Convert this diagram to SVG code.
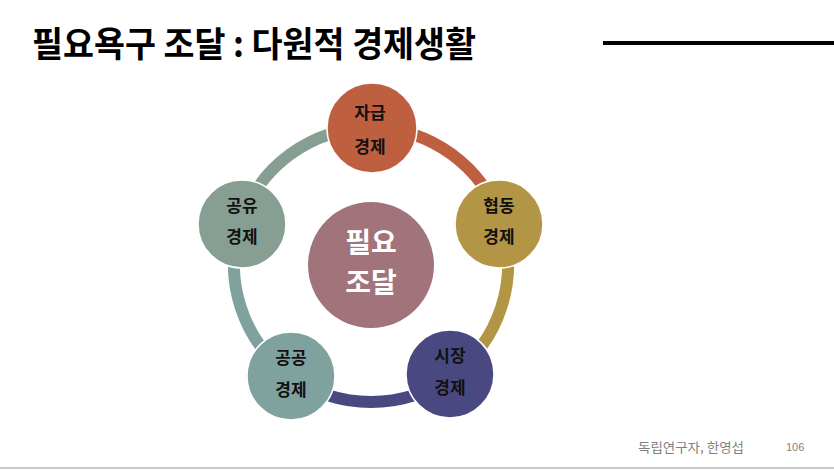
<svg xmlns="http://www.w3.org/2000/svg" width="834" height="471" viewBox="0 0 834 471">
<style>
.t{font-family:"Noto Sans CJK KR","Noto Sans",sans-serif;}
.title{font-size:35px;font-weight:700;fill:#000;}
.nl{font-size:17px;font-weight:700;fill:#111;text-anchor:middle;}
.cl{font-size:28px;font-weight:700;fill:#fff;text-anchor:middle;}
.node{stroke:#fff;stroke-width:1.5;}
.arc{fill:none;stroke-width:12;}
.foot{font-size:13px;fill:#7f7f7f;}
</style>
<rect width="834" height="471" fill="#fff"/>
<text class="t title" x="32" y="57" textLength="444" lengthAdjust="spacingAndGlyphs">필요욕구 조달 : 다원적 경제생활</text>
<line x1="603" y1="43" x2="834" y2="43" stroke="#000" stroke-width="4"/>
<g id="connectors">
<path class="arc" stroke="#BE5F3F" d="M371,128 A137,137 0 0 1 501.3,222.7"/>
<path class="arc" stroke="#B39645" d="M501.3,222.7 A137,137 0 0 1 451.5,375.8"/>
<path class="arc" stroke="#4A4880" d="M451.5,375.8 A137,137 0 0 1 290.5,375.8"/>
<path class="arc" stroke="#7FA29E" d="M290.5,375.8 A137,137 0 0 1 240.7,222.7"/>
<path class="arc" stroke="#869F92" d="M240.7,222.7 A137,137 0 0 1 371,128"/>
</g>
<g id="center">
<circle cx="371" cy="265" r="63" fill="#A0747A"/>
<text class="t cl" x="371" y="253">필요</text>
<text class="t cl" x="371" y="293">조달</text>
</g>
<g id="n-top">
<circle class="node" cx="372" cy="128" r="45" fill="#BE5F3F"/>
<text class="t nl" x="370" y="119">자급</text>
<text class="t nl" x="370" y="153">경제</text>
</g>
<g id="n-right">
<circle class="node" cx="499" cy="224" r="44" fill="#B39645"/>
<text class="t nl" x="499" y="212">협동</text>
<text class="t nl" x="499" y="243">경제</text>
</g>
<g id="n-bottomright">
<circle class="node" cx="450" cy="374" r="44" fill="#4A4880"/>
<text class="t nl" x="450" y="362">시장</text>
<text class="t nl" x="450" y="394">경제</text>
</g>
<g id="n-bottomleft">
<circle class="node" cx="291" cy="376" r="44" fill="#7FA29E"/>
<text class="t nl" x="291" y="364">공공</text>
<text class="t nl" x="291" y="396">경제</text>
</g>
<g id="n-left">
<circle class="node" cx="242" cy="224" r="44" fill="#869F92"/>
<text class="t nl" x="242" y="212">공유</text>
<text class="t nl" x="242" y="243">경제</text>
</g>
<text class="t foot" x="638" y="452" textLength="106" lengthAdjust="spacingAndGlyphs">독립연구자, 한영섭</text>
<text x="786" y="451" font-family="Liberation Sans, sans-serif" font-size="11" fill="#7f7f7f">106</text>
<line x1="0" y1="468" x2="834" y2="468" stroke="#c8c8c8" stroke-width="2"/>
</svg>
